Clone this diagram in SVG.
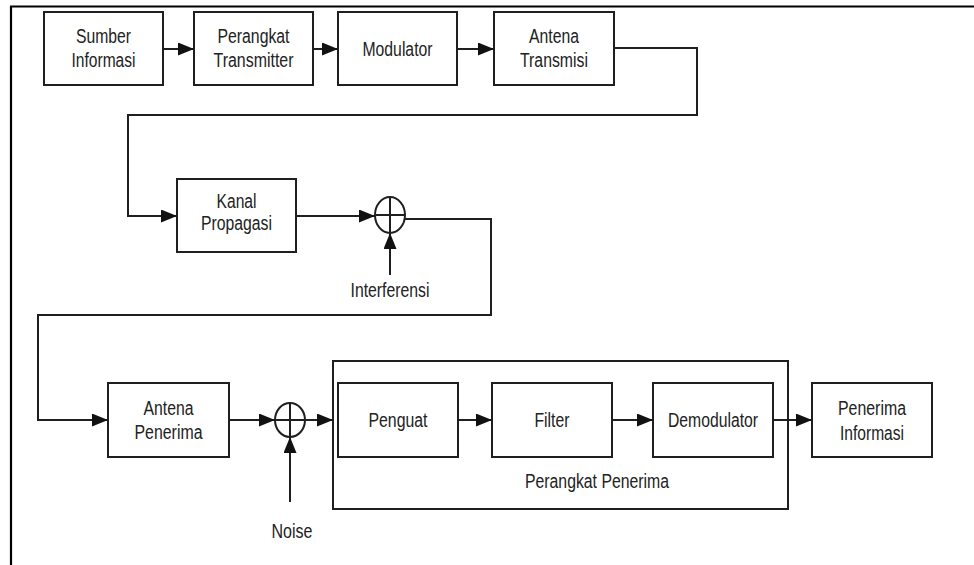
<svg xmlns="http://www.w3.org/2000/svg" width="974" height="565" viewBox="0 0 974 565">
<style>
.box{fill:#fff;stroke:#1f1f1f;stroke-width:2}
.group{fill:none;stroke:#1f1f1f;stroke-width:2}
.sum{fill:none;stroke:#1f1f1f;stroke-width:2}
.conn{fill:none;stroke:#1f1f1f;stroke-width:2;marker-end:url(#ah)}
.wire{fill:none;stroke:#1f1f1f;stroke-width:2}
text{font-family:"Liberation Sans",Arial,sans-serif;font-size:20px;fill:#222;text-anchor:middle}
</style>
<defs>
<marker id="ah" markerUnits="userSpaceOnUse" markerWidth="16" markerHeight="13" refX="16" refY="6.5" orient="auto">
<path d="M0,0 L16,6.5 L0,13 z" fill="#111"/>
</marker>
</defs>
<rect width="974" height="565" fill="#fff"/>
<g id="frame">
<path d="M10,6.5 H974 M11,6 V565" stroke="#000" stroke-width="2.2" fill="none"/>
</g>
<g id="perangkat-penerima">
<rect class="group" x="333" y="361" width="455" height="148"/>
<text x="597" y="488" textLength="144" lengthAdjust="spacingAndGlyphs">Perangkat Penerima</text>
</g>
<g id="sumber-informasi">
<rect class="box" x="44" y="12" width="119" height="73"/>
<text x="103.5" y="43" textLength="55" lengthAdjust="spacingAndGlyphs">Sumber</text>
<text x="103.5" y="67" textLength="64" lengthAdjust="spacingAndGlyphs">Informasi</text>
</g>
<g id="perangkat-transmitter">
<rect class="box" x="194" y="12" width="119" height="73"/>
<text x="253.5" y="43" textLength="72" lengthAdjust="spacingAndGlyphs">Perangkat</text>
<text x="253.5" y="67" textLength="80" lengthAdjust="spacingAndGlyphs">Transmitter</text>
</g>
<g id="modulator">
<rect class="box" x="338" y="12" width="119" height="73"/>
<text x="397.5" y="56" textLength="70" lengthAdjust="spacingAndGlyphs">Modulator</text>
</g>
<g id="antena-transmisi">
<rect class="box" x="494" y="12" width="120" height="73"/>
<text x="554" y="43" textLength="50" lengthAdjust="spacingAndGlyphs">Antena</text>
<text x="554" y="67" textLength="68" lengthAdjust="spacingAndGlyphs">Transmisi</text>
</g>
<g id="kanal-propagasi">
<rect class="box" x="177" y="179" width="119" height="73"/>
<text x="236.5" y="208" textLength="40" lengthAdjust="spacingAndGlyphs">Kanal</text>
<text x="236.5" y="230" textLength="71" lengthAdjust="spacingAndGlyphs">Propagasi</text>
</g>
<g id="sum-interferensi">
<ellipse class="sum" cx="390" cy="215" rx="15" ry="18"/>
<path class="wire" d="M375,215 H405 M390,197 V233"/>
</g>
<g id="interferensi">
<text x="390" y="297" textLength="79" lengthAdjust="spacingAndGlyphs">Interferensi</text>
</g>
<g id="antena-penerima">
<rect class="box" x="108" y="383" width="121" height="74"/>
<text x="168.5" y="415" textLength="50" lengthAdjust="spacingAndGlyphs">Antena</text>
<text x="168.5" y="439" textLength="68" lengthAdjust="spacingAndGlyphs">Penerima</text>
</g>
<g id="sum-noise">
<ellipse class="sum" cx="290" cy="420" rx="15" ry="17"/>
<path class="wire" d="M275,420 H305 M290,403 V437"/>
</g>
<g id="noise">
<text x="292" y="538" textLength="41" lengthAdjust="spacingAndGlyphs">Noise</text>
</g>
<g id="penguat">
<rect class="box" x="338" y="383" width="120" height="74"/>
<text x="398" y="427" textLength="59" lengthAdjust="spacingAndGlyphs">Penguat</text>
</g>
<g id="filter">
<rect class="box" x="492" y="383" width="120" height="74"/>
<text x="552" y="427" textLength="35" lengthAdjust="spacingAndGlyphs">Filter</text>
</g>
<g id="demodulator">
<rect class="box" x="653" y="383" width="120" height="74"/>
<text x="713" y="427" textLength="90" lengthAdjust="spacingAndGlyphs">Demodulator</text>
</g>
<g id="penerima-informasi">
<rect class="box" x="812" y="383" width="120" height="74"/>
<text x="872" y="415" textLength="68" lengthAdjust="spacingAndGlyphs">Penerima</text>
<text x="872" y="440" textLength="64" lengthAdjust="spacingAndGlyphs">Informasi</text>
</g>
<g id="connectors">
<path class="conn" d="M163,49 H194"/>
<path class="conn" d="M313,49 H338"/>
<path class="conn" d="M457,49 H494"/>
<path class="conn" d="M614,48 H697 V115 H128 V216 H177"/>
<path class="conn" d="M296,216 H375"/>
<path class="conn" d="M390,275 V233"/>
<path class="conn" d="M405,219 H491 V315 H38 V420 H108"/>
<path class="conn" d="M229,420 H275"/>
<path class="conn" d="M305,420 H333"/>
<path class="conn" d="M458,420 H492"/>
<path class="conn" d="M612,420 H653"/>
<path class="conn" d="M773,420 H812"/>
<path class="conn" d="M290,502 V437"/>
</g>
</svg>
